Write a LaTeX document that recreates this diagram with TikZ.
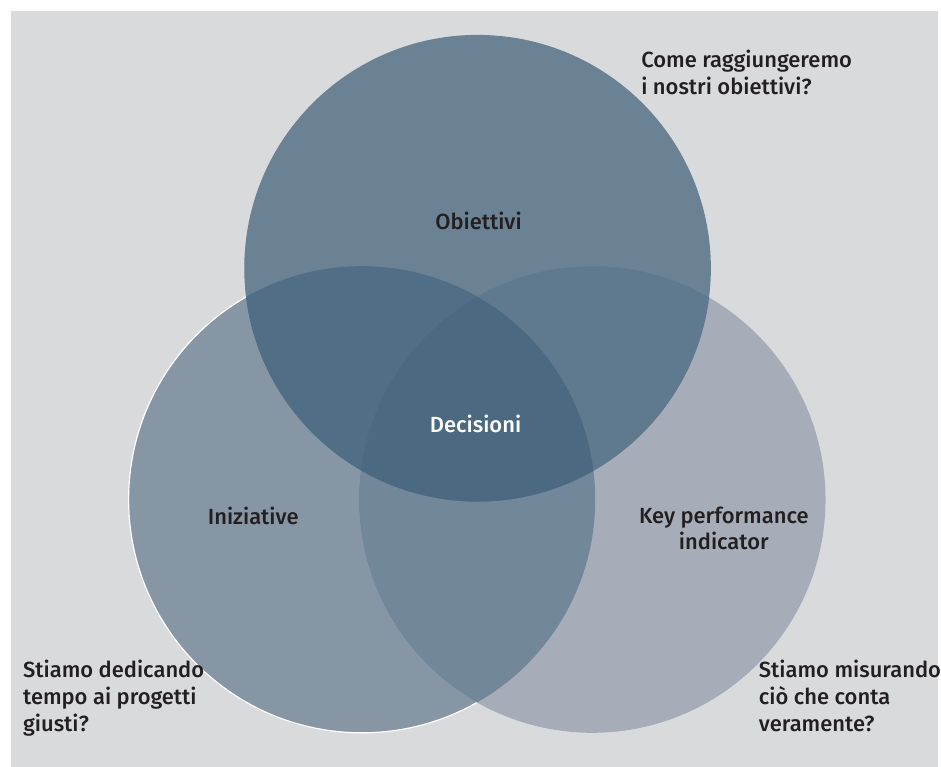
\documentclass[tikz,border=0pt]{standalone}
\usepackage{fontspec}
\setmainfont{Fira Sans}[UprightFont=* Medium]
\usepackage{tikz}

\definecolor{sfondo}{RGB}{217,218,220}
\definecolor{testo}{RGB}{35,31,32}
\definecolor{colObi}{RGB}{107,129,148}
\definecolor{colIni}{RGB}{135,150,165}
\definecolor{colKpi}{RGB}{166,173,184}
\definecolor{colObiIni}{RGB}{80,110,133}
\definecolor{colObiKpi}{RGB}{95,122,143}
\definecolor{colIniKpi}{RGB}{114,135,153}
\definecolor{colDec}{RGB}{75,106,129}

\begin{document}
\begin{tikzpicture}[
    x=1pt, y=-1pt,
    etichetta/.style={text=testo, inner sep=0pt,
      font=\fontsize{22}{27}\selectfont},
    domanda/.style={etichetta, align=left, anchor=north west},
  ]
  \fill[white] (0,0) rectangle (941,769);
  \fill[sfondo] (11,11) rectangle (941,769);

  \coordinate (obi) at (479,269);
  \coordinate (ini) at (363,501);
  \coordinate (kpi) at (594,501);

  \fill[colIni] (ini) circle[radius=234pt];
  \draw[white, line width=1.2pt] (ini) circle[radius=234pt];
  \fill[colKpi] (kpi) circle[radius=234pt];
  \begin{scope}
    \clip (ini) circle[radius=234pt];
    \fill[colIniKpi] (kpi) circle[radius=234pt];
  \end{scope}
  \fill[colObi] (obi) circle[radius=234pt];
  \begin{scope}
    \clip (obi) circle[radius=234pt];
    \fill[colObiIni] (ini) circle[radius=234pt];
    \fill[colObiKpi] (kpi) circle[radius=234pt];
    \clip (ini) circle[radius=234pt];
    \fill[colDec] (kpi) circle[radius=234pt];
  \end{scope}

  \node[etichetta] (obiettivi) at (480,222) {Obiettivi};
  \node[etichetta, text=white] (decisioni) at (477,425) {Decisioni};
  \node[etichetta] (iniziative) at (254,517) {Iniziative};
  \node[etichetta, align=center] (indicatori) at (726,530)
    {Key performance\\indicator};

  \node[domanda] (come) at (643,50) {Come raggiungeremo\\i nostri obiettivi?};
  \node[domanda] (tempo) at (23,662) {Stiamo dedicando\\tempo ai progetti\\giusti?};
  \node[domanda] (misura) at (761,662) {Stiamo misurando\\ciò che conta\\veramente?};
\end{tikzpicture}
\end{document}
